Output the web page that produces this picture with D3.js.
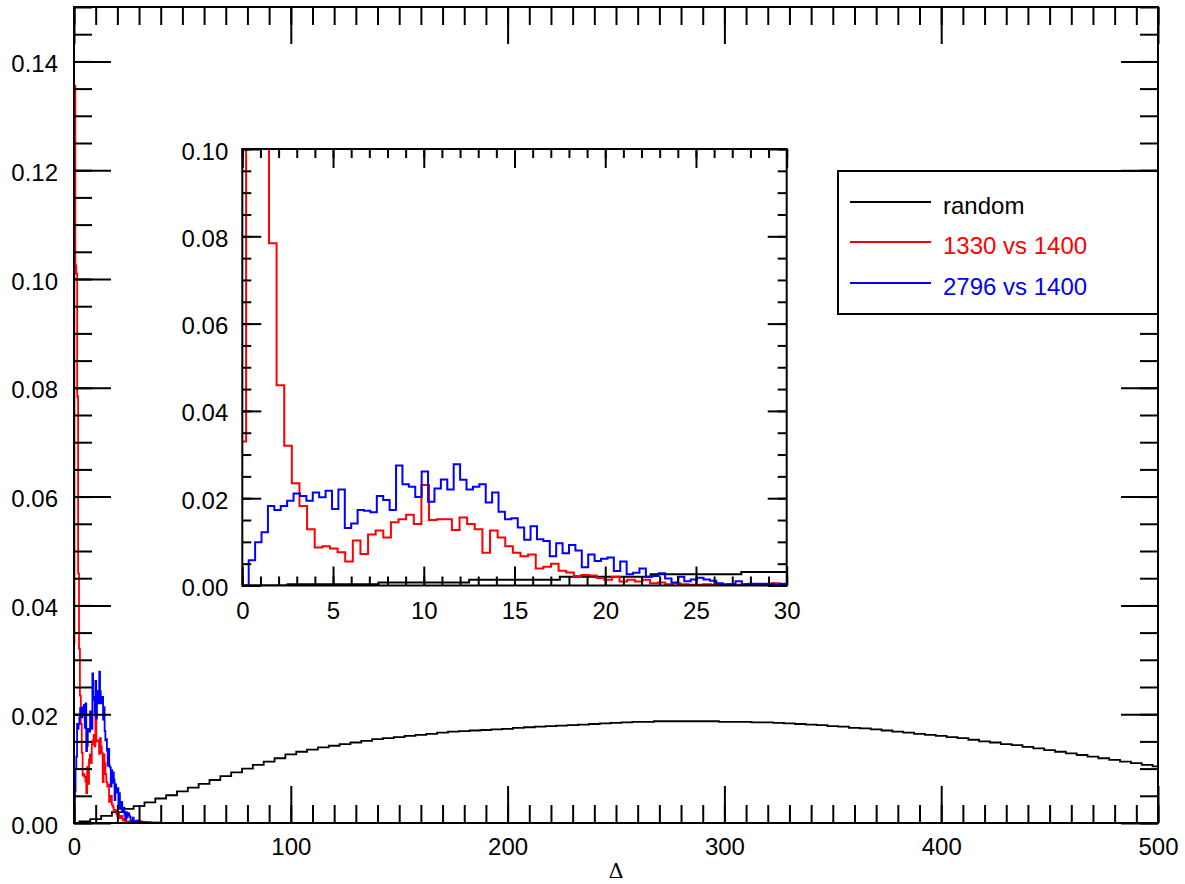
<!DOCTYPE html>
<html>
<head>
<meta charset="utf-8">
<script src="https://cdn.jsdelivr.net/npm/d3@7"></script>
<style>
  body { margin: 0; background: #fff; }
  svg { display: block; }
  text { font-family: "Liberation Sans", Arial, Helvetica, sans-serif; }
</style>
</head>
<body>
<svg id="chart" width="1185" height="884"></svg>
<script>
// ---------------- data ----------------
// "random" histogram: bins of 5 centred on 0, 5, 10, ... 500
const randomBinWidth = 5;
const randomFirstCenter = 0;
const randomValues = [
  0.0000, 0.0003, 0.0007, 0.0013, 0.0020, 0.0026, 0.0031, 0.0038, 0.0045, 0.0051,
  0.0058, 0.0065, 0.0072, 0.0079, 0.0086, 0.0093, 0.0100, 0.0107, 0.0113, 0.0119,
  0.0126, 0.0131, 0.0135, 0.0139, 0.0142, 0.0145, 0.0148, 0.0151, 0.0154, 0.0156,
  0.0158, 0.0160, 0.0162, 0.0164, 0.0166, 0.0168, 0.0169, 0.0170, 0.0171, 0.0172,
  0.0173, 0.0175, 0.0176, 0.0177, 0.0178, 0.0179, 0.0180, 0.0181, 0.0182, 0.0183,
  0.0184, 0.0185, 0.0186, 0.0186, 0.0187, 0.0187, 0.0187, 0.0187, 0.0187, 0.0187,
  0.0186, 0.0186, 0.0186, 0.0185, 0.0185, 0.0184, 0.0183, 0.0182, 0.0181, 0.0180,
  0.0178, 0.0177, 0.0175, 0.0174, 0.0172, 0.0170, 0.0168, 0.0166, 0.0164, 0.0162,
  0.0160, 0.0158, 0.0156, 0.0153, 0.0150, 0.0148, 0.0145, 0.0143, 0.0140, 0.0137,
  0.0134, 0.0131, 0.0128, 0.0125, 0.0122, 0.0119, 0.0116, 0.0113, 0.0110, 0.0107,
  0.0104
];

// "1330 vs 1400" histogram
const redBinWidth = 0.42;
const redFirstCenter = 0;
const redValues = [
  0.0330, 0.1355, 0.1025, 0.1010, 0.0784, 0.0459, 0.0320, 0.0234, 0.0182, 0.0129,
  0.0087, 0.0090, 0.0085, 0.0076, 0.0055, 0.0103, 0.0072, 0.0117, 0.0126, 0.0110,
  0.0145, 0.0152, 0.0162, 0.0141, 0.0230, 0.0150, 0.0152, 0.0152, 0.0127, 0.0156,
  0.0141, 0.0129, 0.0075, 0.0126, 0.0110, 0.0090, 0.0075, 0.0067, 0.0071, 0.0039,
  0.0043, 0.0050, 0.0034, 0.0030, 0.0022, 0.0024, 0.0023, 0.0017, 0.0013, 0.0020,
  0.0009, 0.0013, 0.0009, 0.0013, 0.0005, 0.0007, 0.0003, 0.0005, 0.0003, 0.0002,
  0.0002, 0.0003, 0.0002, 0.0002, 0.0003, 0.0002, 0.0003, 0.0002, 0.0002, 0.0003,
  0.0005, 0.0002, 0.0002, 0.0001, 0.0003, 0.0001, 0.0002, 0.0000, 0.0001, 0.0002,
  0.0000, 0.0001, 0.0001, 0.0000, 0.0002, 0.0000, 0.0001, 0.0000, 0.0001, 0.0000,
  0.0000, 0.0001, 0.0000, 0.0000, 0.0001, 0.0000, 0.0000, 0.0000
];

// "2796 vs 1400" histogram
const blueBinWidth = 0.353;
const blueFirstCenter = 0.1765;
const blueValues = [
  0.0000, 0.0058, 0.0099, 0.0122, 0.0182, 0.0173, 0.0182, 0.0194, 0.0211, 0.0205,
  0.0194, 0.0213, 0.0202, 0.0217, 0.0175, 0.0220, 0.0132, 0.0142, 0.0173, 0.0171,
  0.0168, 0.0205, 0.0196, 0.0173, 0.0275, 0.0232, 0.0226, 0.0203, 0.0261, 0.0192,
  0.0222, 0.0243, 0.0220, 0.0278, 0.0242, 0.0220, 0.0226, 0.0232, 0.0190, 0.0213,
  0.0169, 0.0152, 0.0154, 0.0133, 0.0105, 0.0136, 0.0106, 0.0102, 0.0067, 0.0097,
  0.0074, 0.0093, 0.0080, 0.0042, 0.0071, 0.0056, 0.0061, 0.0064, 0.0033, 0.0055,
  0.0026, 0.0029, 0.0039, 0.0020, 0.0022, 0.0028, 0.0016, 0.0007, 0.0020, 0.0010,
  0.0014, 0.0018, 0.0014, 0.0011, 0.0005, 0.0003, 0.0003, 0.0010, 0.0003, 0.0004,
  0.0004, 0.0004, 0.0004, 0.0002, 0.0004, 0.0002, 0.0003, 0.0001, 0.0002, 0.0001,
  0.0000, 0.0002, 0.0001, 0.0000, 0.0001, 0.0000, 0.0001, 0.0000, 0.0000, 0.0000
];

const seriesNames  = ["random", "1330 vs 1400", "2796 vs 1400"];
const seriesColors = ["#000000", "#ff0000", "#0000ff"];

const mainXTicks  = [0, 100, 200, 300, 400, 500];
const mainYTicks  = [0.00, 0.02, 0.04, 0.06, 0.08, 0.10, 0.12, 0.14];
const insetXTicks = [0, 5, 10, 15, 20, 25, 30];
const insetYTicks = [0.00, 0.02, 0.04, 0.06, 0.08, 0.10];
const xTitle = "\u0394";

// ---------------- helpers ----------------
function toPoints(values, first, width) {
  return values.map((v, i) => [first + i * width, v]);
}
const series = [
  toPoints(randomValues, randomFirstCenter, randomBinWidth),
  toPoints(redValues, redFirstCenter, redBinWidth),
  toPoints(blueValues, blueFirstCenter, blueBinWidth)
];

const svg = d3.select("#chart");
const FONT = 24;

// draws a boxed plot: ticks on all four sides, labels left/bottom
function boxedAxes(g, x, y, o) {
  const [x0, x1] = x.range();
  const [y0, y1] = y.range(); // y0 bottom, y1 top
  const minorX = d3.range(x.domain()[0], x.domain()[1] + 1e-9, o.xMinor);
  const minorY = d3.range(y.domain()[0], y.domain()[1] + 1e-9, o.yMinor);
  const style = sel => {
    sel.select(".domain").remove();
    sel.selectAll("line").attr("stroke", "#000").attr("stroke-width", 2);
    sel.selectAll("text").attr("fill", "#000").style("font-size", FONT + "px");
  };
  // minor ticks
  g.append("g").attr("transform", `translate(0,${y0})`)
    .call(d3.axisBottom(x).tickValues(minorX).tickSize(-o.minorLen).tickFormat("")).call(style);
  g.append("g").attr("transform", `translate(0,${y1})`)
    .call(d3.axisTop(x).tickValues(minorX).tickSize(-o.minorLen).tickFormat("")).call(style);
  g.append("g").attr("transform", `translate(${x0},0)`)
    .call(d3.axisLeft(y).tickValues(minorY).tickSize(-o.minorLen).tickFormat("")).call(style);
  g.append("g").attr("transform", `translate(${x1},0)`)
    .call(d3.axisRight(y).tickValues(minorY).tickSize(-o.minorLen).tickFormat("")).call(style);
  // major ticks with labels
  g.append("g").attr("transform", `translate(0,${y0})`)
    .call(d3.axisBottom(x).tickValues(o.xTicks).tickSize(-o.majorLen).tickPadding(o.xPad)
      .tickFormat(d3.format("d"))).call(style);
  g.append("g").attr("transform", `translate(0,${y1})`)
    .call(d3.axisTop(x).tickValues(o.xTicks).tickSize(-o.majorLen).tickFormat("")).call(style);
  const left = g.append("g").attr("transform", `translate(${x0},0)`)
    .call(d3.axisLeft(y).tickValues(o.yTicks).tickSize(-o.majorLen).tickPadding(o.yPad)
      .tickFormat(d3.format(".2f"))).call(style);
  left.selectAll("text").attr("dy", "0.42em");
  g.append("g").attr("transform", `translate(${x1},0)`)
    .call(d3.axisRight(y).tickValues(o.yTicks).tickSize(-o.majorLen).tickFormat("")).call(style);
  // frame
  g.append("rect")
    .attr("x", x0).attr("y", y1).attr("width", x1 - x0).attr("height", y0 - y1)
    .attr("fill", "none").attr("stroke", "#000").attr("stroke-width", 2);
}

function drawSeries(g, x, y, clipId, width) {
  const line = d3.line().x(d => x(d[0])).y(d => y(d[1])).curve(d3.curveStep);
  series.forEach((pts, i) => {
    g.append("path")
      .attr("d", line(pts))
      .attr("clip-path", `url(#${clipId})`)
      .attr("fill", "none")
      .attr("stroke", seriesColors[i])
      .attr("stroke-width", width)
      .attr("stroke-linejoin", "miter");
  });
}

const defs = svg.append("defs");

// ---------------- main plot ----------------
const xMain = d3.scaleLinear().domain([0, 500]).range([74, 1158]);
const yMain = d3.scaleLinear().domain([0, 0.15]).range([823, 7]);

defs.append("clipPath").attr("id", "clipMain").append("rect")
  .attr("x", 74).attr("y", 7).attr("width", 1158 - 74).attr("height", 823 - 7);

const gMain = svg.append("g");
drawSeries(gMain, xMain, yMain, "clipMain", 1.8);
boxedAxes(gMain, xMain, yMain, {
  xTicks: mainXTicks, yTicks: mainYTicks, xMinor: 10, yMinor: 0.005,
  majorLen: 37, minorLen: 18, xPad: 15, yPad: 16
});

svg.append("text")
  .attr("x", (74 + 1158) / 2).attr("y", 878)
  .attr("text-anchor", "middle")
  .style("font-family", "'DejaVu Serif', 'Liberation Serif', serif")
  .style("font-size", "21px")
  .text(xTitle);

// ---------------- inset ----------------
const xIn = d3.scaleLinear().domain([0, 30]).range([242.3, 786.7]);
const yIn = d3.scaleLinear().domain([0, 0.10]).range([585.5, 149]);

defs.append("clipPath").attr("id", "clipInset").append("rect")
  .attr("x", 242.3).attr("y", 149).attr("width", 786.7 - 242.3).attr("height", 585.5 - 149);

const gIn = svg.append("g");
gIn.append("rect")
  .attr("x", 242.3).attr("y", 149).attr("width", 786.7 - 242.3).attr("height", 585.5 - 149)
  .attr("fill", "#fff");
drawSeries(gIn, xIn, yIn, "clipInset", 2);
boxedAxes(gIn, xIn, yIn, {
  xTicks: insetXTicks, yTicks: insetYTicks, xMinor: 1, yMinor: 0.005,
  majorLen: 19, minorLen: 9, xPad: 16, yPad: 14
});

// ---------------- legend ----------------
const lg = svg.append("g");
lg.append("rect")
  .attr("x", 838).attr("y", 171).attr("width", 1158 - 838).attr("height", 314 - 171)
  .attr("fill", "#fff").attr("stroke", "#000").attr("stroke-width", 2);
const legendRows = [202, 242, 283];
seriesNames.forEach((name, i) => {
  lg.append("line")
    .attr("x1", 850).attr("x2", 931)
    .attr("y1", legendRows[i]).attr("y2", legendRows[i])
    .attr("stroke", seriesColors[i]).attr("stroke-width", 2);
  lg.append("text")
    .attr("x", 943).attr("y", legendRows[i] + 12)
    .attr("fill", seriesColors[i])
    .style("font-size", FONT + "px")
    .text(name);
});
</script>
</body>
</html>
